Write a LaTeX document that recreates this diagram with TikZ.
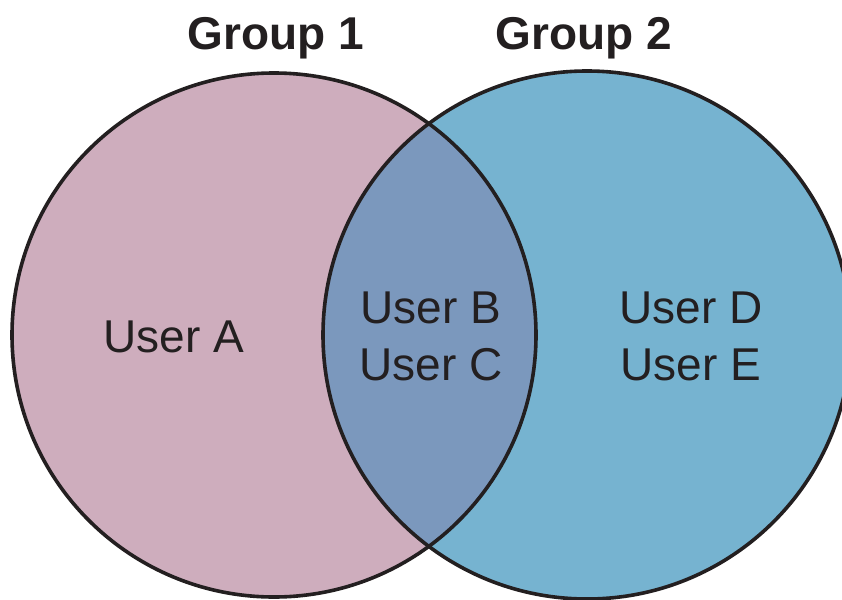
\documentclass[tikz,border=0pt]{standalone}
\usepackage{fontspec}
\setmainfont{Liberation Sans}
\definecolor{pinkfill}{RGB}{206,173,189}
\definecolor{bluefill}{RGB}{118,179,208}
\definecolor{overlapfill}{RGB}{123,152,189}
\definecolor{inkblack}{RGB}{35,31,32}
\tikzset{
  outline/.style={draw=inkblack, line width=3.6pt},
  grouplabel/.style={anchor=base, inner sep=0pt, text=inkblack, font=\fontsize{46}{55}\selectfont\bfseries},
  userlabel/.style={anchor=base, inner sep=0pt, text=inkblack, font=\fontsize{46}{55}\selectfont},
}
\begin{document}
\begin{tikzpicture}[x=1pt,y=-1pt]
\useasboundingbox (0,0) rectangle (842,599);
\clip (0,0) rectangle (842,599);
\coordinate (c1) at (274,335);
\coordinate (c2) at (587,335);
\fill[pinkfill] (c1) circle[radius=262];
\fill[bluefill] (c2) circle[radius=264];
\begin{scope}
  \clip (c1) circle[radius=262];
  \fill[overlapfill] (c2) circle[radius=264];
\end{scope}
\draw[outline] (c1) circle[radius=262];
\draw[outline] (c2) circle[radius=264];
\node[grouplabel] (g1) at (276,50) {Group 1};
\node[grouplabel] (g2) at (584,50) {Group 2};
\node[userlabel] (ua) at (174,352) {User A};
\node[userlabel] (ub) at (431,323) {User B};
\node[userlabel] (uc) at (431,380) {User C};
\node[userlabel] (ud) at (691,323) {User D};
\node[userlabel] (ue) at (691,380) {User E};
\end{tikzpicture}
\end{document}
